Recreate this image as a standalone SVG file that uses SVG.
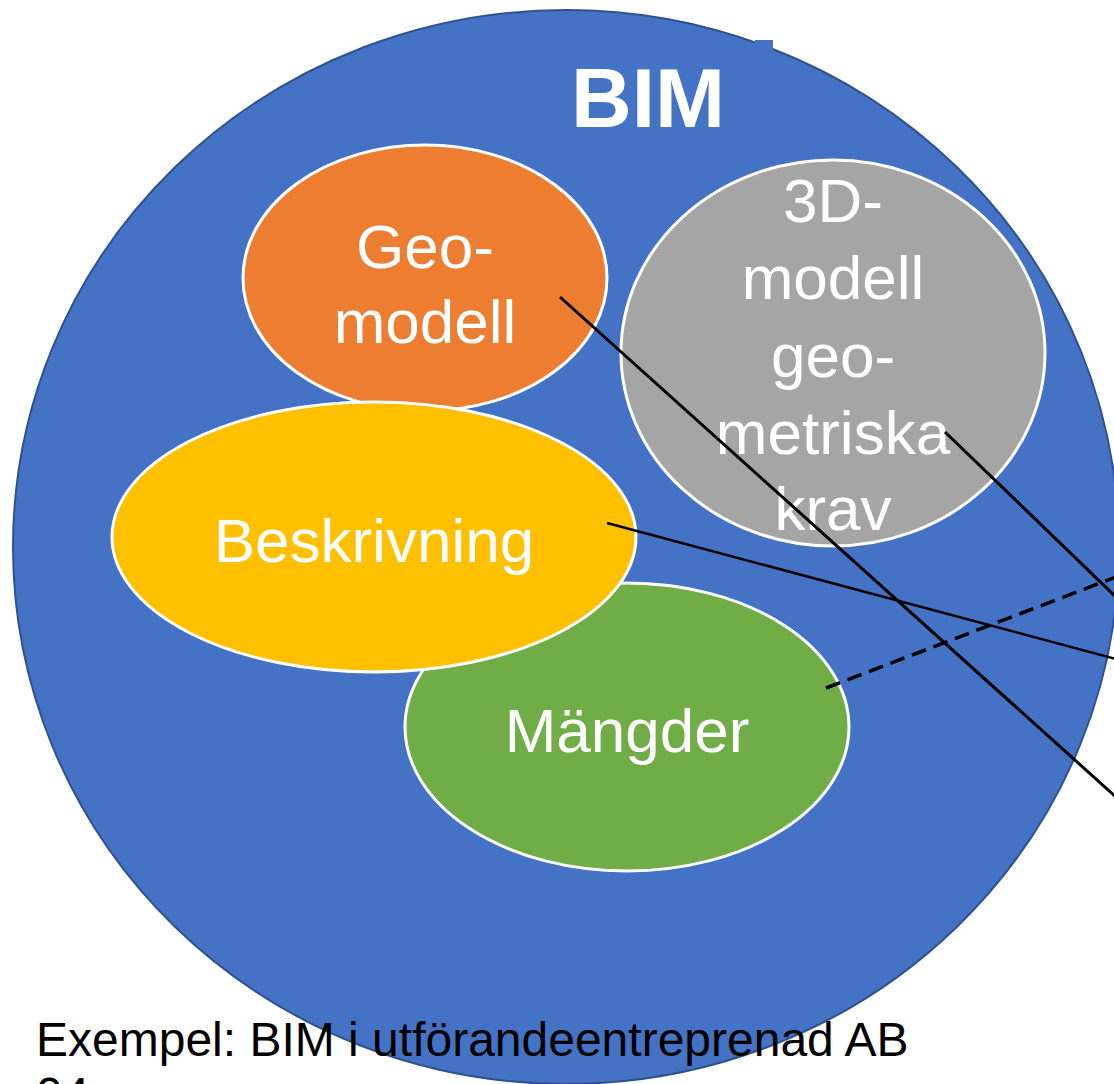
<svg xmlns="http://www.w3.org/2000/svg" width="1114" height="1084" viewBox="0 0 1114 1084">
<style>
.lbl{font-family:"Liberation Sans",Arial,sans-serif;font-size:62px;fill:#fff;text-anchor:middle}
.node{stroke:#fff;stroke-width:3}
.ln{stroke:#000;fill:none}
</style>
<rect width="1114" height="1084" fill="#fff"/>
<g id="bim">
<ellipse cx="566" cy="547" rx="553" ry="537" fill="#4472C4" stroke="#2F528F" stroke-width="2"/>
<rect x="755" y="40" width="18" height="12" fill="#4472C4"/>
<text x="648" y="127" font-family="Liberation Sans,Arial,sans-serif" font-size="84" font-weight="bold" fill="#fff" text-anchor="middle">BIM</text>
</g>
<g id="geomodell">
<ellipse class="node" cx="425" cy="278" rx="182" ry="133" fill="#ED7D31"/>
<text class="lbl" x="425" y="268">Geo-</text>
<text class="lbl" x="425" y="343">modell</text>
</g>
<g id="modell3d">
<ellipse class="node" cx="833" cy="353" rx="212" ry="193" fill="#A5A5A5"/>
<text class="lbl" x="833" y="222">3D-</text>
<text class="lbl" x="833" y="299">modell</text>
<text class="lbl" x="833" y="377">geo-</text>
<text class="lbl" x="833" y="454">metriska</text>
<text class="lbl" x="833" y="530">krav</text>
</g>
<g id="mangder">
<ellipse class="node" cx="627" cy="727" rx="222" ry="144" fill="#70AD47"/>
<text class="lbl" x="627" y="752">Mängder</text>
</g>
<g id="beskrivning">
<ellipse class="node" cx="374" cy="537" rx="262" ry="135" fill="#FFC000"/>
<text class="lbl" x="374" y="562">Beskrivning</text>
</g>
<g id="connectors">
<line class="ln" x1="560" y1="297" x2="1116" y2="797" stroke-width="3"/>
<line class="ln" x1="945" y1="432" x2="1116" y2="597" stroke-width="3"/>
<line class="ln" x1="607" y1="523" x2="1116" y2="659" stroke-width="2.5"/>
<line class="ln" x1="826" y1="688" x2="1116" y2="577" stroke-width="3.5" stroke-dasharray="15 8"/>
</g>
<g id="caption" font-family="Liberation Sans,Arial,sans-serif" font-size="48" fill="#000">
<text x="36" y="1056">Exempel: BIM i utförandeentreprenad AB</text>
<text x="36" y="1111">04</text>
</g>
</svg>
